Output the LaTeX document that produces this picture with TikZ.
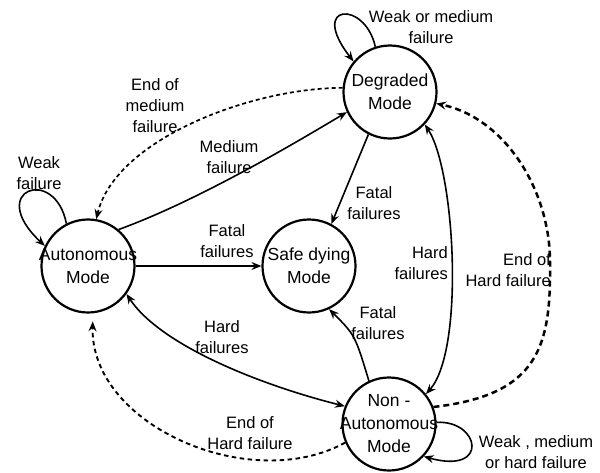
\documentclass[tikz,border=0pt]{standalone}
\usepackage{fontspec}
\setmainfont{Liberation Sans}
\usetikzlibrary{arrows.meta}
\begin{document}
\begin{tikzpicture}[x=1pt,y=-1pt,
  state/.style={circle, draw, line width=2.2pt, minimum size=93pt, inner sep=0pt},
  stxt/.style={align=center, font=\fontsize{17.5}{23}\selectfont, inner sep=0pt},
  lbl/.style={align=center, font=\fontsize{16.5}{21}\selectfont, inner sep=0pt},
  tip/.tip={Stealth[length=10pt,width=8pt,inset=3.5pt]},
  edge/.style={line width=1.6pt, -tip},
  dbl/.style={line width=1.6pt, tip-tip},
  dashA/.style={line width=1.7pt, dash pattern=on 4pt off 3pt, -tip},
  dashB/.style={line width=1.9pt, dash pattern=on 4.5pt off 3.5pt, -tip},
  dashC/.style={line width=2.5pt, dash pattern=on 6pt off 4pt, -tip}
]
\useasboundingbox (0,0) rectangle (600,472);

\node[state, label={[stxt]center:{Degraded\\Mode}}] (deg) at (390,92) {};
\node[state, label={[stxt]center:{Autonomous\\Mode}}] (auto) at (88,266) {};
\node[state, label={[stxt]center:{Safe dying\\Mode}}] (safe) at (309,266) {};
\node[state, label={[stxt]center:{Non -\\Autonomous\\Mode}}] (na) at (389,424) {};

% self loops
\draw[edge] (auto.117) .. controls (55,165) and (-15,190) .. (auto.155);
\draw[edge] (deg.108) .. controls (365,0) and (308,3) .. (deg.140);
\draw[edge] (na.2) .. controls (480,420) and (490,475) .. (na.317);

% transitions
\draw[dashA] (deg.175) .. controls (250,88) and (115,140) .. (auto.80);
\draw[edge] (auto.50) .. controls (200,200) and (300,140) .. (deg.205);
\draw[edge] (auto) -- (safe);
\draw[edge] (deg.243) -- (safe.62);
\draw[dbl] (deg.317) .. controls (455,170) and (465,350) .. (na.39);
\coordinate (rmid) at (550,262);
\draw[dashC] (na.21) .. controls (540,395) and (551,345) .. (rmid)
  .. controls (550,190) and (505,118) .. (deg.346);
\draw[edge] (na.115) .. controls (355,335) .. (safe.295);
\draw[dbl] (auto.324) .. controls (160,345) and (260,385) .. (na.158);
\draw[dashB, shorten >=8pt] (na.203) .. controls (250,495) and (90,425) .. (auto.276);

% labels
\node[lbl] (l1) at (39,173) {Weak\\failure};
\node[lbl] (l2) at (431,27) {Weak or medium\\failure};
\node[lbl] (l3) at (155,106) {End of\\medium\\failure};
\node[lbl] (l4) at (229,157) {Medium\\failure};
\node[lbl] (l5) at (227,241) {Fatal\\failures};
\node[lbl] (l6) at (374,203) {Fatal\\failures};
\node[lbl, align=right, anchor=east] (l7) at (448,263) {Hard\\failures};
\node[lbl, align=right, anchor=east] (l8) at (551,270) {End of\\Hard failure};
\node[lbl] (l9) at (378,323) {Fatal\\failures};
\node[lbl] (l10) at (222,337) {Hard\\failures};
\node[lbl] (l11) at (250,433) {End of\\Hard failure};
\node[lbl] (l12) at (536,452) {Weak , medium\\or hard failure};
\end{tikzpicture}
\end{document}
